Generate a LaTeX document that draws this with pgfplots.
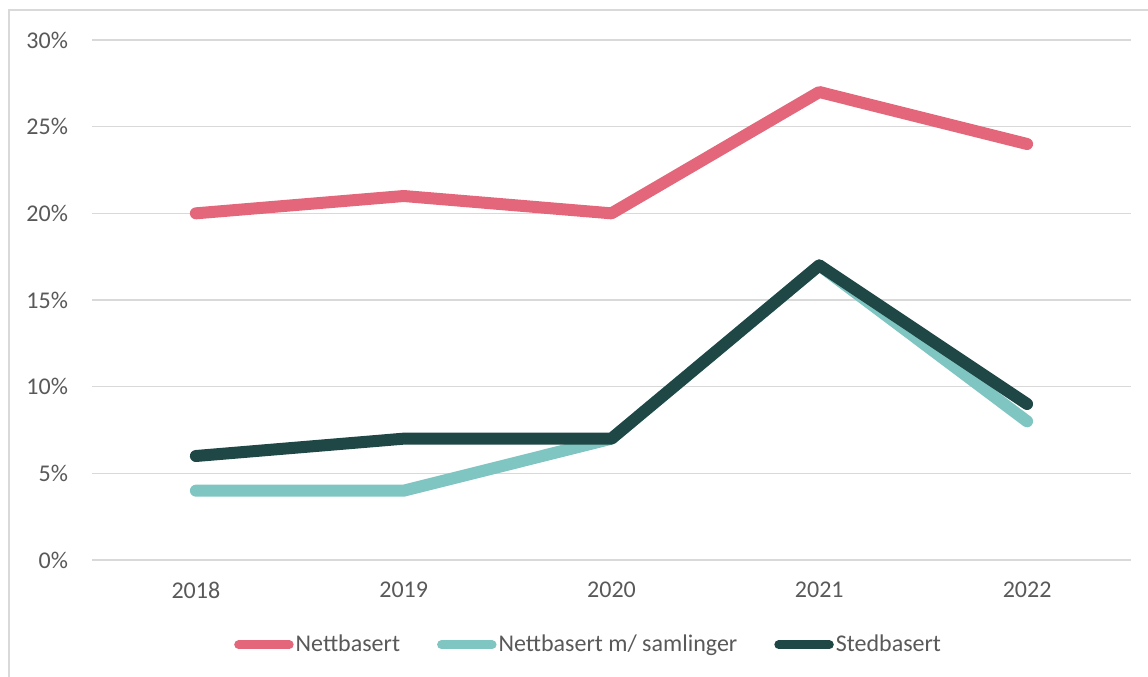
\documentclass[border=0pt]{standalone}
\usepackage{pgfplots}
\pgfplotsset{compat=1.18}
\usepackage{fontspec}
\setmainfont{Carlito}
\definecolor{cpink}{HTML}{E3667A}
\definecolor{cteal}{HTML}{7FC5C2}
\definecolor{cdark}{HTML}{1F4745}
\definecolor{cgrid}{HTML}{D9D9D9}
\definecolor{ctext}{HTML}{595959}
\begin{document}
\begin{tikzpicture}
\clip (0,0) rectangle (574pt,338pt);
\draw[cgrid, line width=0.75pt] (4.5pt,-20pt) rectangle (620pt,333pt);
\begin{axis}[
  at={(46pt,58pt)}, anchor=south west,
  scale only axis, width=519.5pt, height=260pt,
  xmin=-0.5, xmax=4.5, ymin=0, ymax=30,
  xtick={0,1,2,3,4}, xticklabels={2018,2019,2020,2021,2022},
  ytick={0,5,10,15,20,25,30},
  yticklabel={\pgfmathprintnumber{\tick}\%},
  /pgf/number format/assume math mode=true,
  axis line style={draw=none},
  tick style={draw=none},
  ymajorgrids, grid style={cgrid, line width=0.75pt},
  ticklabel style={font=\fontsize{12}{14}\selectfont, text=ctext},
  yticklabel style={xshift=-8.5pt},
  xticklabel style={yshift=-7.5pt},
  legend columns=3,
  legend style={at={(0.477,-0.163)}, anchor=center, draw=none, fill=none,
    font=\fontsize{12}{14}\selectfont, text=ctext,
    /tikz/every even column/.append style={column sep=18.5pt},
    /tikz/every odd column/.append style={column sep=1pt},
    inner sep=0pt, nodes={inner sep=0pt}},
  legend image code/.code={\draw[line width=4.5pt, line cap=round] (2.25pt,0pt) -- (27.5pt,0pt);},
]
\addplot[cpink, line width=6pt, line cap=round, line join=round] coordinates {(0,20) (1,21) (2,20) (3,27) (4,24)};
\addlegendentry{Nettbasert}
\addplot[cteal, line width=6pt, line cap=round, line join=round] coordinates {(0,4) (1,4) (2,7) (3,17) (4,8)};
\addlegendentry{Nettbasert m/ samlinger}
\addplot[cdark, line width=6pt, line cap=round, line join=round] coordinates {(0,6) (1,7) (2,7) (3,17) (4,9)};
\addlegendentry{Stedbasert}
\end{axis}
\end{tikzpicture}
\end{document}
